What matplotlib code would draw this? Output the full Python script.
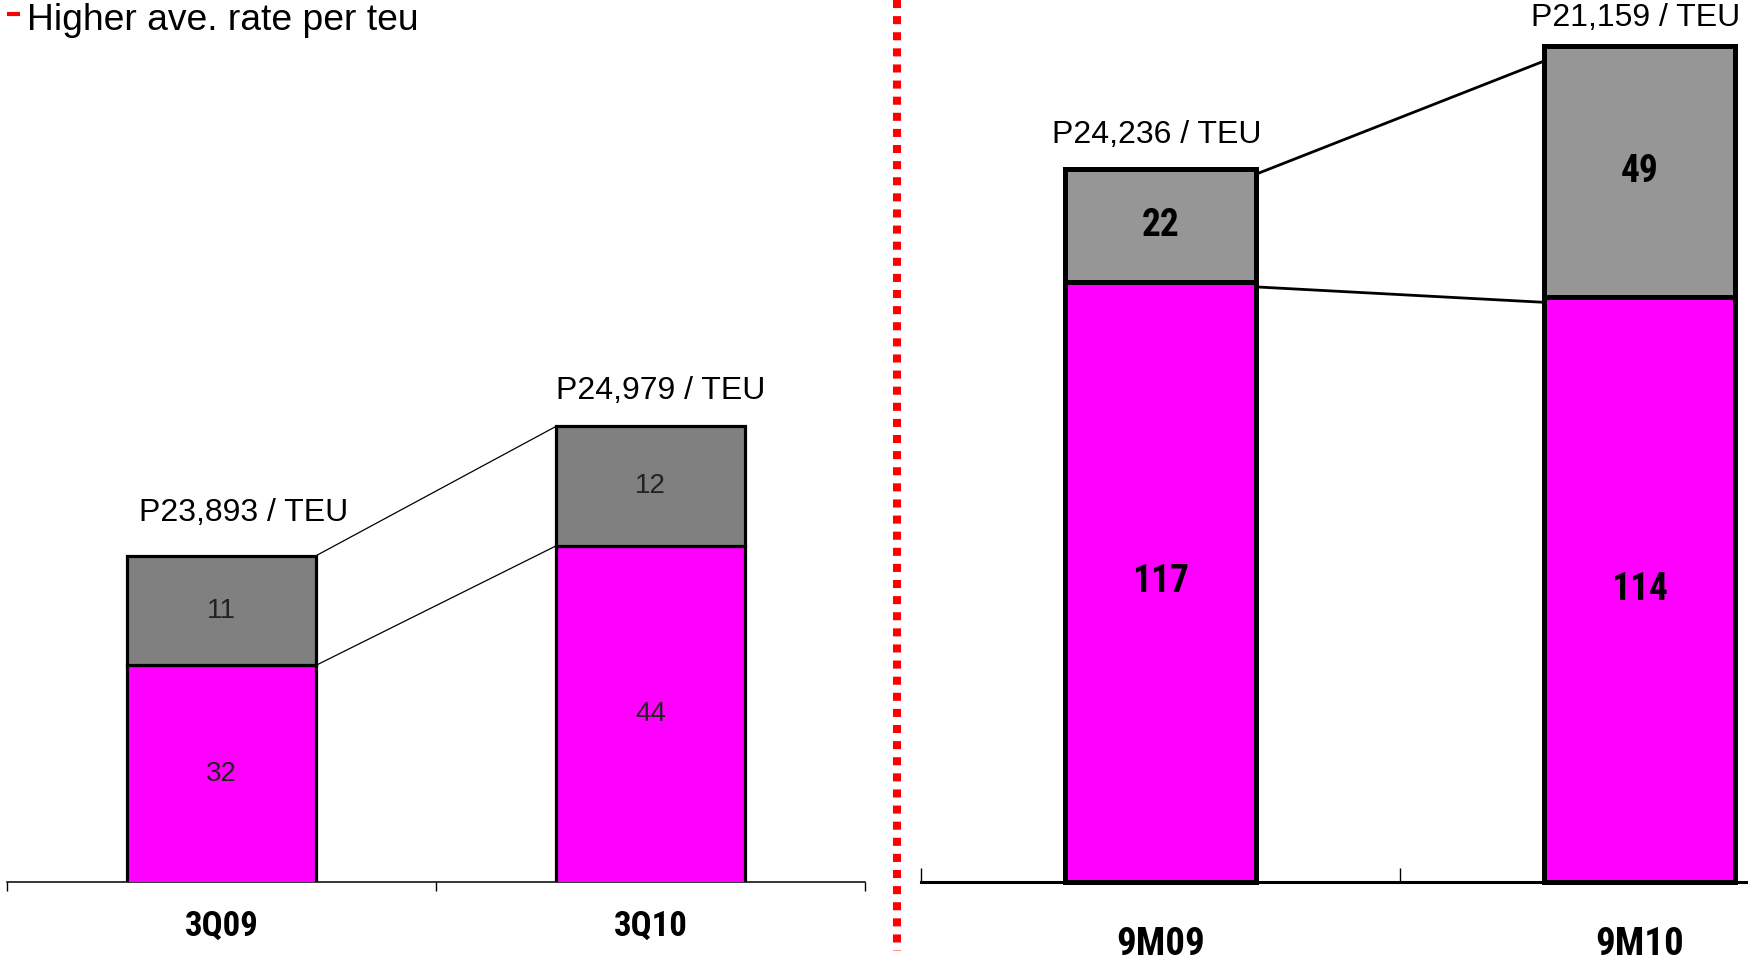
import matplotlib
matplotlib.use("Agg")
import matplotlib.pyplot as plt
from matplotlib import font_manager
from matplotlib.font_manager import FontProperties
from matplotlib.lines import Line2D

# ---------------- data ----------------
title = "Higher ave. rate per teu"
q_categories = ["3Q09", "3Q10"]
q_pink = [32, 44]
q_gray = [11, 12]
q_rate_labels = ["P23,893 / TEU", "P24,979 / TEU"]

m_categories = ["9M09", "9M10"]
m_pink = [117, 114]
m_gray = [22, 49]
m_rate_labels = ["P24,236 / TEU", "P21,159 / TEU"]

# ---------------- fonts ----------------
names = {f.name for f in font_manager.fontManager.ttflist}
REG = "Liberation Sans" if "Liberation Sans" in names else "DejaVu Sans"
plt.rcParams["font.family"] = [REG, "DejaVu Sans"]


def narrow_bold(size):
    """Find a condensed/narrow bold face if one is installed."""
    cands = []
    for f in font_manager.fontManager.ttflist:
        nm = f.name.lower()
        fn = f.fname.lower()
        is_narrow = ("narrow" in nm or "condensed" in nm or "narrow" in fn or "condensed" in fn
                     or str(f.stretch) in ("condensed", "semi-condensed", "extra-condensed"))
        is_bold = (f.weight in ("bold", 700, "heavy", 800) or "bold" in fn)
        if is_narrow and is_bold and "italic" not in fn and "oblique" not in fn:
            pri = 0 if "liberation" in fn else (1 if "arial" in fn else (2 if "roboto" in fn else 3))
            cands.append((pri, f.fname))
    if cands:
        cands.sort()
        return FontProperties(fname=cands[0][1], size=size)
    return FontProperties(family=REG, weight="bold", size=size * 0.85)


W, H = 1748, 966
fig = plt.figure(figsize=(W / 100, H / 100), dpi=100)

PINK = "#FF00FF"


def px_axes(x0, x1, ybottom, ytop):
    return [x0 / W, 1 - ybottom / H, (x1 - x0) / W, (ybottom - ytop) / H]


# ---------------- left panel ----------------
axL = fig.add_axes(px_axes(7, 865, 882, 0))
xs = list(range(len(q_categories)))
wL = 0.44
axL.bar(xs, q_pink, width=wL, color=PINK, edgecolor="black", linewidth=2.3, zorder=3)
axL.bar(xs, q_gray, width=wL, bottom=q_pink, color="#808080", edgecolor="black",
        linewidth=2.3, zorder=3)
axL.set_xlim(-0.5, 1.5)
axL.set_ylim(10.25, 10.25 + 882 / 9.96)
for s in ["left", "right", "top"]:
    axL.spines[s].set_visible(False)
axL.spines["bottom"].set_linewidth(1.1)
axL.set_yticks([])
axL.set_xticks([-0.5, 0.5, 1.5])
axL.set_xticklabels([])
axL.tick_params(axis="x", direction="out", length=6.5, width=1.0)
totL = [p + g for p, g in zip(q_pink, q_gray)]
axL.plot([xs[0] + wL / 2, xs[1] - wL / 2], [totL[0], totL[1]], color="black", lw=0.9, zorder=2)
axL.plot([xs[0] + wL / 2, xs[1] - wL / 2], [q_pink[0], q_pink[1]], color="black", lw=0.9, zorder=2)
lbl_off_L = [(16, 25), (7, 20)]
for i in xs:
    axL.text(i, q_pink[i] / 2 + 10.25 / 2, str(q_pink[i]), ha="center", va="center",
             fontsize=20, color="#222222", zorder=4)
    axL.text(i, q_pink[i] + q_gray[i] / 2, str(q_gray[i]), ha="center", va="center",
             fontsize=20, color="#222222", zorder=4)
    axL.annotate(q_rate_labels[i], xy=(i, totL[i]), xytext=lbl_off_L[i],
                 textcoords="offset points", ha="center", va="baseline", fontsize=23)
    axL.annotate(q_categories[i], xy=(i, 0), xycoords=("data", "axes fraction"),
                 xytext=(0, -32), textcoords="offset points", ha="center", va="center",
                 fontproperties=narrow_bold(25))

# ---------------- right panel ----------------
axR = fig.add_axes(px_axes(921, 1879, 882, 0))
wR = 0.40
axR.bar(xs, m_pink, width=wR, color=PINK, edgecolor="black", linewidth=3.6, zorder=3,
        clip_on=False)
axR.bar(xs, m_gray, width=wR, bottom=m_pink, color="#969696", edgecolor="black",
        linewidth=3.6, zorder=3, clip_on=False)
axR.set_xlim(-0.5, 1.5)
axR.set_ylim(0, 882 / 5.13)
for s in ["left", "right", "top"]:
    axR.spines[s].set_visible(False)
axR.spines["bottom"].set_linewidth(2.2)
axR.set_yticks([])
axR.set_xticks([-0.5, 0.5, 1.5])
axR.set_xticklabels([])
axR.tick_params(axis="x", direction="in", length=10, width=1.0)
totR = [p + g for p, g in zip(m_pink, m_gray)]
axR.plot([xs[0] + wR / 2, xs[1] - wR / 2], [totR[0] - 1, totR[1] - 3], color="black", lw=2.0, zorder=2)
axR.plot([xs[0] + wR / 2, xs[1] - wR / 2], [m_pink[0] - 1, m_pink[1] - 1], color="black", lw=2.0, zorder=2)
lbl_off_R = [(-3, 19), (-3, 14)]
for i in xs:
    axR.text(i, m_pink[i] / 2, str(m_pink[i]), ha="center", va="center",
             fontproperties=narrow_bold(27), zorder=4)
    axR.text(i, m_pink[i] + m_gray[i] / 2, str(m_gray[i]), ha="center", va="center",
             fontproperties=narrow_bold(27), zorder=4)
    axR.annotate(m_rate_labels[i], xy=(i, totR[i]), xytext=lbl_off_R[i],
                 textcoords="offset points", ha="center", va="baseline", fontsize=23,
                 annotation_clip=False)
    axR.annotate(m_categories[i], xy=(i, 0), xycoords=("data", "axes fraction"),
                 xytext=(0, -45), textcoords="offset points", ha="center", va="center",
                 fontproperties=narrow_bold(28))

# ---------------- title & separator ----------------
fig.text(27 / W, 1 - 30 / H, title, ha="left", va="baseline", fontsize=26.8)
fig.add_artist(Line2D([7 / W, 20 / W], [1 - 14 / H, 1 - 14 / H], color="red", lw=3.0,
                      solid_capstyle="butt"))
fig.add_artist(Line2D([897 / W, 897 / W], [1.0, 1 - 951 / H], color="red", lw=5.8,
                      linestyle=(0, (1, 1)), dash_capstyle="butt", zorder=10))

fig.savefig("out.png", dpi=100)
